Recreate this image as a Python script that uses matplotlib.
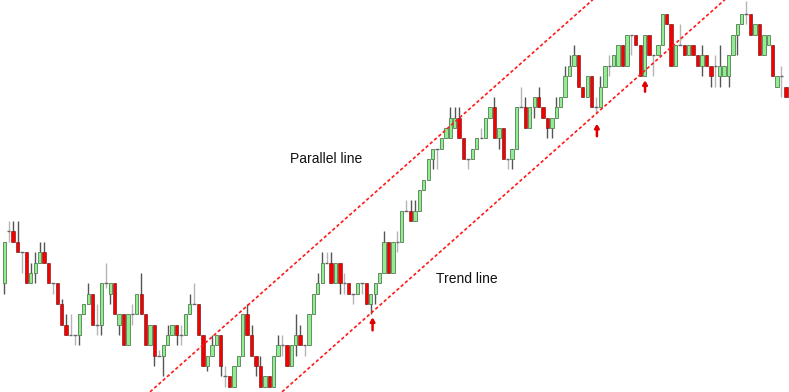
import numpy as np
import matplotlib.pyplot as plt

# candle prices in chart levels (one level = one grid step)
opens = [10, 15, 15, 14, 13, 13, 10, 11, 12, 13, 12, 10, 10, 8, 6, 5, 5, 5, 7, 8,
         9, 6, 6, 10, 9, 10, 6, 7, 4, 7, 7, 9, 7, 4, 6, 3, 3, 4, 5, 6,
         5, 5, 7, 8, 8, 5, 2, 3, 4, 5, 1, 1, 0, 2, 3, 7, 5, 3, 2, 0,
         1, 0, 3, 4, 4, 2, 4, 5, 4, 4, 7, 9, 10, 12, 12, 10, 12, 10, 10, 9,
         9, 10, 10, 8, 9, 10, 11, 14, 11, 14, 14, 17, 17, 16, 17, 19, 20, 22, 23, 23,
         24, 24, 25, 26, 24, 22, 22, 23, 24, 24, 26, 27, 24, 25, 22, 22, 23, 27, 27, 25,
         27, 28, 27, 26, 25, 26, 27, 28, 30, 31, 32, 29, 28, 30, 27, 27, 29, 31, 31, 31,
         33, 31, 34, 34, 33, 30, 34, 32, 32, 33, 36, 35, 31, 33, 33, 32, 33, 32, 31, 32,
         31, 31, 30, 30, 30, 32, 34, 35, 36, 36, 34, 35, 32, 33, 33, 29, 30, 29]
closes = [14, 15, 14, 13, 13, 10, 11, 12, 13, 12, 10, 10, 8, 6, 5, 5, 5, 7, 8, 9,
          6, 6, 10, 10, 10, 7, 7, 4, 7, 7, 9, 7, 4, 6, 3, 3, 4, 5, 6, 5,
          5, 7, 8, 8, 5, 2, 3, 4, 5, 2, 1, 0, 2, 3, 7, 5, 3, 2, 0, 1,
          0, 3, 4, 4, 2, 4, 5, 4, 4, 7, 9, 10, 12, 12, 10, 12, 10, 10, 9, 9,
          10, 10, 8, 9, 10, 11, 14, 11, 14, 14, 17, 17, 16, 17, 19, 20, 22, 23, 23, 24,
          25, 26, 26, 24, 22, 22, 23, 24, 24, 26, 27, 24, 25, 22, 22, 23, 27, 27, 25, 27,
          28, 27, 26, 25, 26, 27, 28, 30, 31, 32, 29, 28, 30, 27, 27, 29, 31, 31, 32, 33,
          31, 34, 34, 33, 30, 34, 32, 32, 33, 36, 35, 31, 33, 33, 32, 33, 32, 31, 32, 31,
          30, 31, 31, 31, 32, 34, 35, 36, 36, 34, 35, 32, 34, 34, 30, 30, 30, 28]
highs = [14, 16, 16, 16, 13, 13, 12, 13, 14, 14, 12, 10, 10, 8.5, 7, 7, 5, 7, 8, 10,
         9, 8, 10, 12, 10, 10, 7, 7, 7, 8, 9, 11, 7, 6, 6, 3.5, 4, 6, 6, 6,
         6, 7, 9, 10, 8, 5, 3, 5, 5, 5, 2, 1, 2, 3, 7, 8, 6, 3, 3, 1,
         1, 3, 5, 5, 4, 4, 7, 6, 4, 7, 9, 11, 13, 13, 13, 12, 12, 11, 10, 9,
         10, 10, 10, 9, 10, 11, 15, 14, 14, 15, 17, 18, 18, 18, 19, 20, 22, 23, 23, 24,
         25, 27, 27, 27, 24, 22, 23, 24, 25, 26, 27, 28, 25, 25, 22, 23, 27, 29, 28, 27,
         28, 29, 27, 26, 26, 28, 28, 31, 32, 33, 32, 29, 30, 30, 28, 30, 31, 32, 32, 33,
         33, 34, 34, 34, 33, 34, 34, 32, 33, 36, 36, 35, 33, 35, 33, 33, 33, 32, 33, 32,
         31, 32, 33, 31, 32, 34, 35, 36, 37.3, 36, 35, 35, 34, 34, 33, 30, 31, 29]
lows = [9, 14, 14, 13, 11, 10, 10, 10, 12, 12, 10, 9, 8, 6, 5, 5, 4, 4, 7, 8,
        6, 5, 5, 9.5, 8, 7, 5, 4, 4, 6, 7, 7, 4, 4, 2, 3, 1, 4, 5, 4,
        4, 5, 7, 8, 5, 2, 1.5, 3, 4, 1, 0, 0, 0, 2, 3, 5, 3, 1, 0, 0,
        0, 0, 3, 3, 2, 2, 3, 4, 3, 4, 7, 9, 10, 12, 10, 10, 9, 9, 9, 8,
        9, 9, 8, 7, 8, 10, 11, 11, 11, 13, 14, 17, 16, 16, 17, 19, 20, 21, 21, 23,
        24, 24, 25, 24, 22, 21, 22, 23, 24, 24, 26, 24, 23, 22, 21, 21, 23, 27, 25, 25,
        26, 27, 26, 24, 24, 26, 27, 28, 30, 31, 29, 28, 28, 27, 26.3, 27, 29, 30, 31, 31,
        31, 31, 32, 33, 30, 30, 32, 30, 32, 33, 35, 31, 31, 33, 32, 32, 32, 31, 30, 31,
        29, 29, 29, 30, 29, 32, 32, 35, 35, 34, 34, 32, 32, 33, 30, 29, 28, 28]

# trend channel: two points each (candle index, price level)
trend_line = [(62.9, -0.5), (163.2, 37.4)]
parallel_line = [(33.0, -0.5), (133.3, 37.4)]

# touches of the trend line (candle index, arrow bottom, arrow top)
touches = [(83.4, 5.45, 6.7), (134.2, 24.2, 25.4), (145.1, 28.5, 29.6)]

fig = plt.figure(figsize=(7.89, 3.92), dpi=100)
ax = fig.add_axes([0, 0, 1, 1])

x = np.arange(len(opens))
o = np.array(opens, float)
c = np.array(closes, float)
h = np.array(highs, float)
l = np.array(lows, float)

up = c > o
down = c < o
flat = c == o
w = 0.76

# wicks
ax.vlines(x[~flat], l[~flat], h[~flat], color="#555555", lw=1.0, zorder=1)
ax.vlines(x[flat], l[flat], h[flat], color="#b5b5b5", lw=1.0, zorder=1)
ax.hlines(o[flat], x[flat] - w / 2, x[flat] + w / 2, color="#666666", lw=1.0, zorder=2)

# bodies
ax.bar(x[up], (c - o)[up], bottom=o[up], width=w, color="#90ee90",
       edgecolor="#557f55", linewidth=0.6, zorder=3)
ax.bar(x[down], (o - c)[down], bottom=c[down], width=w, color="#f40000",
       edgecolor="#6a1010", linewidth=0.4, zorder=3)

# channel lines
for pts in (trend_line, parallel_line):
    xs, ys = zip(*pts)
    ax.plot(xs, ys, color="#ff1a1a", lw=1.2, linestyle=(0, (2, 1.4)), zorder=4)

for xi, y0, y1 in touches:
    ax.annotate("", xy=(xi, y1), xytext=(xi, y0),
                arrowprops=dict(arrowstyle="-|>,head_width=0.13,head_length=0.22",
                                color="#e00000", lw=1.8, shrinkA=0, shrinkB=0))

ax.text(72.9, 22.0, "Parallel line", fontsize=10, family="Liberation Sans",
        ha="center", va="center", color="#111111")
ax.text(104.8, 10.4, "Trend line", fontsize=10, family="Liberation Sans",
        ha="center", va="center", color="#111111")

ax.set_xlim(-0.97, 177.7)
ax.set_ylim(-0.51, 37.36)
ax.axis("off")

fig.savefig("out.png", dpi=100)
